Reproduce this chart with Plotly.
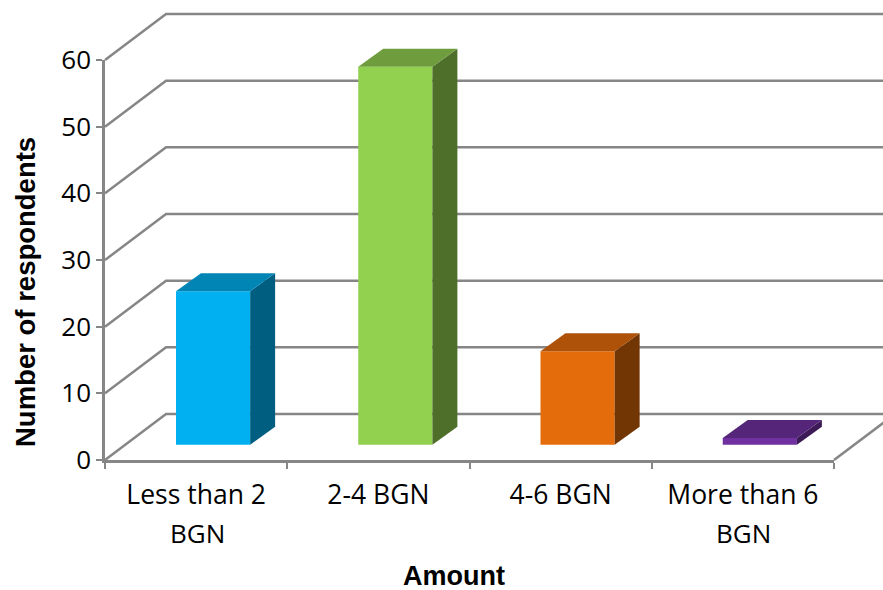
import plotly.graph_objects as go

# Survey results
first_lines = ["Less than 2", "2-4 BGN", "4-6 BGN", "More than 6"]
second_lines = ["BGN", "", "", "BGN"]
respondents = [23, 56.7, 14, 1]
front_colors = ["#00B0F0", "#92D050", "#E46C0A", "#7030A0"]
side_colors = ["#005E80", "#4E6F2A", "#723604", "#3C1A55"]
top_colors = ["#0085B5", "#6F9D3D", "#AD5208", "#552579"]
y_ticks = [0, 10, 20, 30, 40, 50, 60]

# Canvas and front-plane geometry, in pixels
WIDTH, HEIGHT = 883, 590
LEFT, RIGHT, TOP, BOTTOM = 105, 834, 60, 460
X_MIN, X_MAX = -0.5, 3.5
Y_MIN, Y_MAX = 0, 60
px_per_cat = (RIGHT - LEFT) / (X_MAX - X_MIN)
px_per_unit = (BOTTOM - TOP) / (Y_MAX - Y_MIN)

# Oblique projection, in axis units
WALL_DX, WALL_DY = 0.335, 6.9      # front plane to back wall
BAR_DX, BAR_DY = 0.137, 2.7        # depth of one column
BAR_SHIFT, BAR_WIDTH = 0.093, 0.407
FLOOR_LIFT = 2.3                   # columns stand part-way into the floor

# Full-canvas ranges with the same scale as the front plane, so the depth
# offsets can run past the axis frame without being clipped
full_x = [X_MIN - LEFT / px_per_cat, X_MIN + (WIDTH - LEFT) / px_per_cat]
full_y = [Y_MIN - (HEIGHT - BOTTOM) / px_per_unit, Y_MIN + BOTTOM / px_per_unit]

GREY = "#868686"
LINE_W = 2.5
BODY = "Open Sans"
TITLE = "Liberation Sans"

fig = go.Figure()

# Invisible trace keeps the category axis populated
fig.add_trace(go.Scatter(x=first_lines, y=[0] * 4, mode="markers", marker=dict(opacity=0),
                         hoverinfo="skip", showlegend=False))

# Side walls and back-wall gridlines
for v in y_ticks:
    fig.add_trace(go.Scatter(
        x=[X_MIN, X_MIN + WALL_DX, X_MAX + WALL_DX],
        y=[v, v + WALL_DY, v + WALL_DY],
        xaxis="x2", yaxis="y2", mode="lines", line=dict(color=GREY, width=LINE_W),
        hoverinfo="skip", showlegend=False))
fig.add_trace(go.Scatter(
    x=[X_MAX, X_MAX + WALL_DX], y=[0, WALL_DY],
    xaxis="x2", yaxis="y2", mode="lines", line=dict(color=GREY, width=LINE_W),
    hoverinfo="skip", showlegend=False))

# Column fronts
fig.add_trace(go.Bar(
    x=[i + BAR_SHIFT for i in range(len(respondents))],
    y=respondents, base=FLOOR_LIFT, width=BAR_WIDTH,
    marker=dict(color=front_colors, line=dict(width=0)),
    xaxis="x3", yaxis="y3", showlegend=False))

# Column tops and sides
for i, value in enumerate(respondents):
    left = i + BAR_SHIFT - BAR_WIDTH / 2
    right = i + BAR_SHIFT + BAR_WIDTH / 2
    bottom = FLOOR_LIFT
    top = FLOOR_LIFT + value
    fig.add_trace(go.Scatter(
        x=[right, right + BAR_DX, right + BAR_DX, right, right],
        y=[bottom, bottom + BAR_DY, top + BAR_DY, top, bottom],
        xaxis="x3", yaxis="y3", mode="lines", fill="toself", fillcolor=side_colors[i],
        line=dict(width=0), hoverinfo="skip", showlegend=False))
    fig.add_trace(go.Scatter(
        x=[left, right, right + BAR_DX, left + BAR_DX, left],
        y=[top, top, top + BAR_DY, top + BAR_DY, top],
        xaxis="x3", yaxis="y3", mode="lines", fill="toself", fillcolor=top_colors[i],
        line=dict(width=0), hoverinfo="skip", showlegend=False))

annotations = [
    dict(text="Amount", xref="paper", yref="paper", x=454 / WIDTH, y=1 - 576 / HEIGHT,
         xanchor="center", yanchor="middle", showarrow=False,
         font=dict(family=TITLE, size=27, color="black", weight="bold")),
    dict(text="Number of respondents", xref="paper", yref="paper", x=25 / WIDTH, y=1 - 292 / HEIGHT,
         xanchor="center", yanchor="middle", textangle=-90, showarrow=False,
         font=dict(family=TITLE, size=27.5, color="black", weight="bold")),
]
for i, line in enumerate(second_lines):
    if line:
        annotations.append(dict(
            text=line, xref="x3", yref="paper", x=i + 0.005, y=1 - 533 / HEIGHT,
            xanchor="center", yanchor="middle", showarrow=False,
            font=dict(family=BODY, size=26, color="black")))

hidden = dict(domain=[0, 1], visible=False, fixedrange=True, automargin=False)

fig.update_layout(
    width=WIDTH, height=HEIGHT,
    margin=dict(l=0, r=0, t=0, b=0),
    paper_bgcolor="white", plot_bgcolor="rgba(0,0,0,0)",
    showlegend=False,
    annotations=annotations,
    xaxis=dict(
        domain=[LEFT / WIDTH, RIGHT / WIDTH], anchor="y", automargin=False,
        type="category", categoryorder="array", categoryarray=first_lines,
        range=[X_MIN, X_MAX], tickson="boundaries",
        ticks="outside", ticklen=6, tickwidth=2, tickcolor=GREY,
        showline=True, linecolor=GREY, linewidth=3, showgrid=False, zeroline=False,
        tickfont=dict(family=BODY, size=26.5, color="black"), ticklabelstandoff=9),
    yaxis=dict(
        domain=[1 - BOTTOM / HEIGHT, 1 - TOP / HEIGHT], anchor="x", automargin=False,
        range=[Y_MIN, Y_MAX], tickvals=y_ticks,
        ticks="outside", ticklen=6, tickwidth=2, tickcolor=GREY,
        showline=True, linecolor=GREY, linewidth=2.5, showgrid=False, zeroline=False,
        tickfont=dict(family=BODY, size=26, color="black")),
    xaxis2=dict(range=full_x, anchor="y2", **hidden),
    yaxis2=dict(range=full_y, anchor="x2", **hidden),
    xaxis3=dict(range=full_x, anchor="y3", **hidden),
    yaxis3=dict(range=full_y, anchor="x3", **hidden),
)

fig.write_html("out.html")
